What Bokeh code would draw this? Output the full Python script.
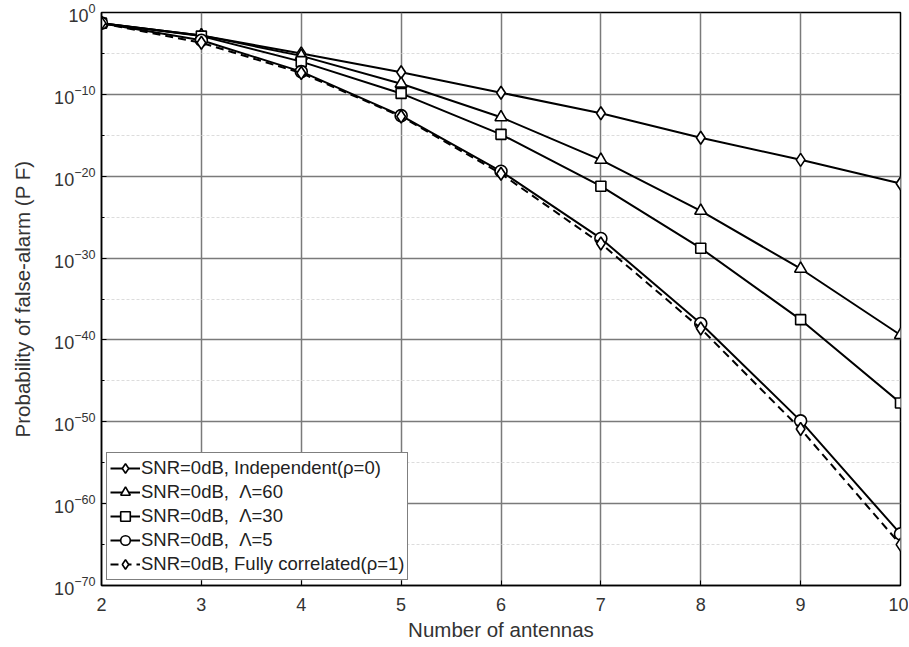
from bokeh.plotting import figure
from bokeh.models import FixedTicker, LogTickFormatter, Range1d, Legend, LegendItem
from bokeh.embed import file_html
from bokeh.resources import INLINE

antennas = [2, 3, 4, 5, 6, 7, 8, 9, 10]
pf_independent = [5e-2, 1.6e-3, 1e-5, 5e-8, 1.6e-10, 5e-13, 5e-16, 1e-18, 1.3e-21]
pf_lambda60 = [5e-2, 1.6e-3, 5e-6, 2e-9, 1.6e-13, 1e-18, 6e-25, 5e-32, 4e-40]
pf_lambda30 = [5e-2, 1.3e-3, 1e-6, 1.3e-10, 1.3e-15, 6e-22, 1.6e-29, 3e-38, 2e-48]
pf_lambda5 = [5e-2, 4e-4, 6e-8, 2.5e-13, 4e-20, 2.5e-28, 1e-38, 1.3e-50, 2e-64]
pf_full = [5e-2, 2e-4, 4e-8, 2e-13, 2e-20, 6e-29, 2.5e-39, 1.3e-51, 1e-65]

labels = [
    "SNR=0dB, Independent(\u03c1=0)",
    "SNR=0dB,  \u039b=60",
    "SNR=0dB,  \u039b=30",
    "SNR=0dB,  \u039b=5",
    "SNR=0dB, Fully correlated(\u03c1=1)",
]
y_major = [1e0, 1e-10, 1e-20, 1e-30, 1e-40, 1e-50, 1e-60, 1e-70]
y_minor = [1e-5, 1e-15, 1e-25, 1e-35, 1e-45, 1e-55, 1e-65]

FONT = "Liberation Sans"

p = figure(width=908, height=647, y_axis_type="log",
           x_range=Range1d(2, 10), y_range=Range1d(1e-70, 1),
           output_backend="svg", toolbar_location=None,
           min_border_left=101, min_border_right=8, min_border_top=12, min_border_bottom=62)

p.outline_line_color = "black"
p.outline_line_width = 1.5
p.background_fill_color = "white"

p.xaxis.ticker = FixedTicker(ticks=antennas)
p.yaxis.ticker = FixedTicker(ticks=y_major, minor_ticks=y_minor)
p.yaxis.formatter = LogTickFormatter()

for ax in (p.xaxis, p.yaxis):
    ax.axis_line_color = "black"
    ax.axis_line_width = 1.5
    ax.major_tick_in = 5
    ax.major_tick_out = 0
    ax.minor_tick_in = 3
    ax.minor_tick_out = 0
    ax.major_label_text_font = FONT
    ax.major_label_text_font_size = "18px"
    ax.major_label_text_color = "#333333"
    ax.axis_label_text_font = FONT
    ax.axis_label_text_font_size = "20.5px"
    ax.axis_label_text_font_style = "normal"
    ax.axis_label_text_color = "#333333"

p.xaxis.axis_label = "Number of antennas"
p.yaxis.axis_label = "Probability of false-alarm (P F)"
p.xaxis.major_label_standoff = 12
p.xaxis.axis_label_standoff = 4
p.yaxis.major_label_standoff = 6
p.yaxis.axis_label_standoff = 17

p.xgrid.grid_line_color = "#7a7a7a"
p.xgrid.grid_line_width = 1.5
p.ygrid.grid_line_color = "#7a7a7a"
p.ygrid.grid_line_width = 1.5
p.ygrid.minor_grid_line_color = "#dcdcdc"
p.ygrid.minor_grid_line_dash = "3 2"
p.ygrid.minor_grid_line_width = 1

series = [
    (pf_independent, "diamond", 13, "solid"),
    (pf_lambda60, "triangle", 12, "solid"),
    (pf_lambda30, "square", 10, "solid"),
    (pf_lambda5, "circle", 12, "solid"),
    (pf_full, "diamond", 13, "8 5"),
]

items = []
for (vals, mk, sz, dash), lab in zip(series, labels):
    r1 = p.line(antennas, vals, line_color="black", line_width=2, line_dash=dash)
    r2 = p.scatter(antennas, vals, marker=mk, size=sz, fill_color="white",
                   line_color="black", line_width=1.6)
    items.append(LegendItem(label=lab, renderers=[r1, r2]))

legend = Legend(items=items, location="bottom_left")
legend.margin = 5
legend.padding = 3
legend.spacing = 0
legend.glyph_width = 30
legend.glyph_height = 24
legend.label_height = 24
legend.label_standoff = 1
legend.label_text_font = FONT
legend.label_text_font_size = "18.5px"
legend.label_text_color = "#222222"
legend.border_line_color = "black"
legend.border_line_width = 1.2
legend.background_fill_color = "white"
legend.background_fill_alpha = 1.0
p.add_layout(legend, "center")

open("out.html", "w").write(file_html(p, INLINE))
